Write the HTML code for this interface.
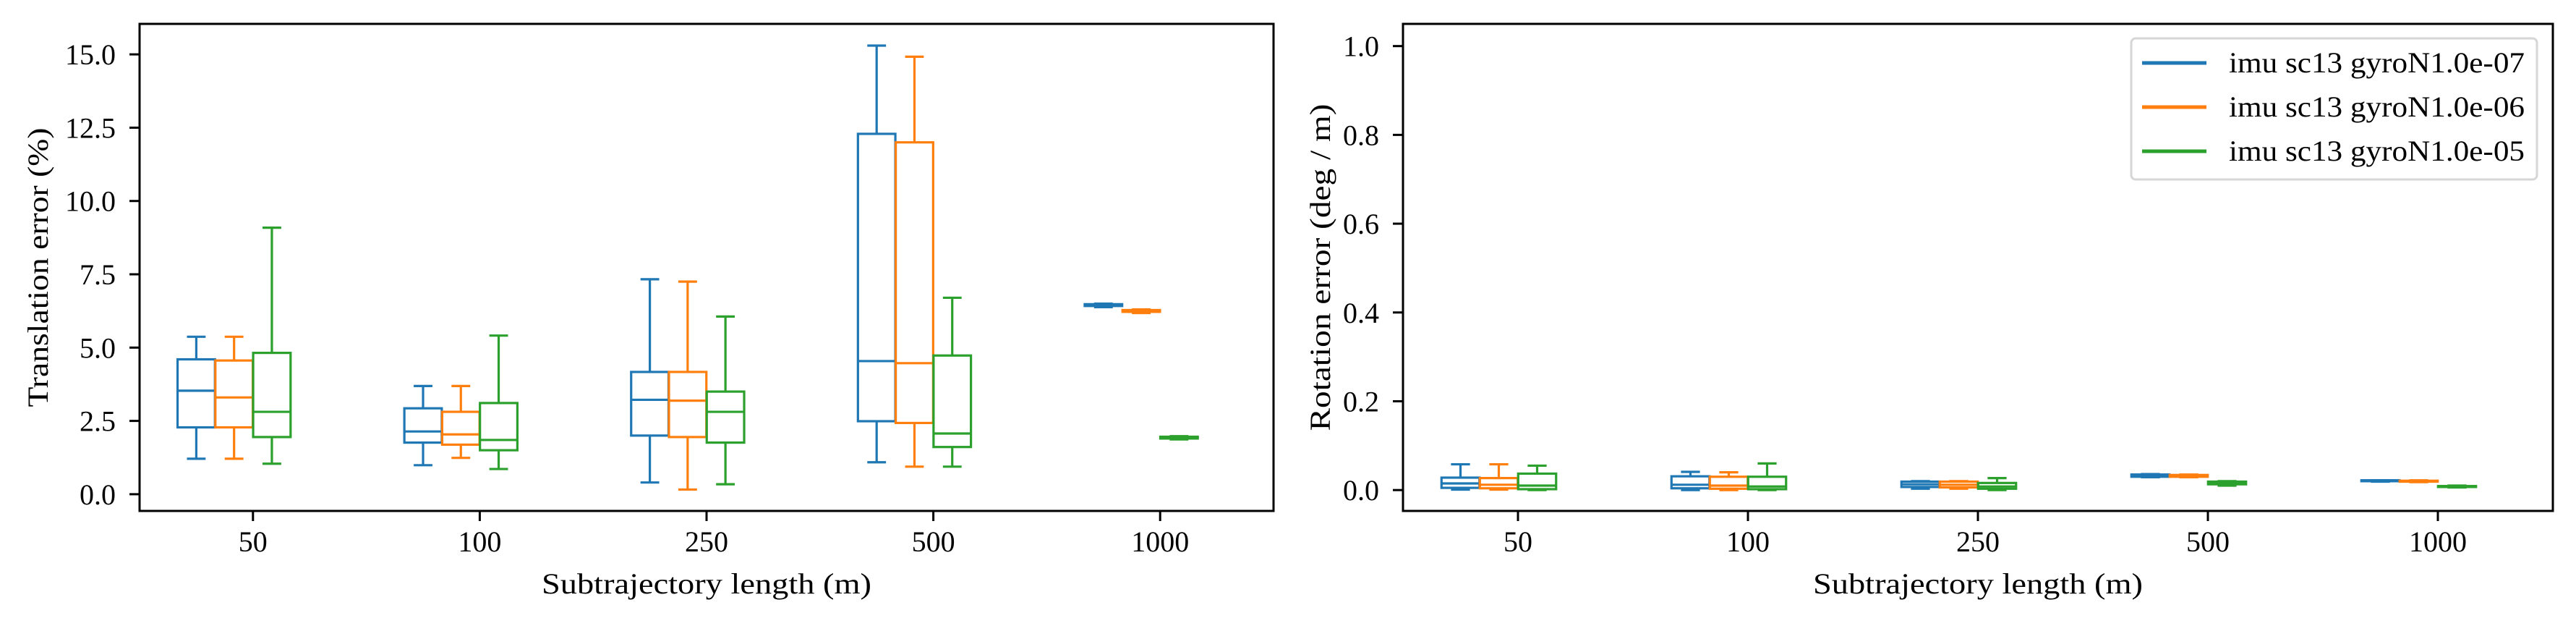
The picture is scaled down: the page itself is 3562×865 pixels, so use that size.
<!DOCTYPE html>
<html><head><meta charset="utf-8"><style>
body{margin:0;background:#fff}
svg text{font-family:"Liberation Serif",serif;fill:#000}
</style></head><body>
<svg id="c" width="3562" height="860" xmlns="http://www.w3.org/2000/svg"></svg>
<script>
const categories=["50","100","250","500","1000"];
const seriesNames=["imu sc13 gyroN1.0e-07","imu sc13 gyroN1.0e-06","imu sc13 gyroN1.0e-05"];
const colors=["#1f77b4","#ff7f0e","#2ca02c"];
// [low, q1, median, q3, high]
const transBlue=[[1.21,2.28,3.53,4.60,5.37],[0.99,1.76,2.14,2.93,3.69],[0.40,2.00,3.22,4.17,7.33],[1.09,2.49,4.54,12.29,15.30],[6.38,6.42,6.45,6.48,6.50]];
const transOrange=[[1.21,2.28,3.30,4.56,5.37],[1.24,1.69,2.04,2.81,3.69],[0.16,1.95,3.19,4.17,7.25],[0.94,2.43,4.47,12.00,14.92],[6.18,6.22,6.25,6.28,6.30]];
const transGreen=[[1.04,1.95,2.81,4.82,9.09],[0.86,1.50,1.85,3.11,5.41],[0.34,1.76,2.81,3.50,6.06],[0.94,1.61,2.07,4.73,6.70],[1.87,1.90,1.93,1.96,1.98]];
const rotBlue=[[0.001,0.005,0.015,0.028,0.058],[0.0,0.004,0.012,0.031,0.041],[0.003,0.007,0.013,0.019,0.020],[0.029,0.030,0.033,0.035,0.036],[0.019,0.020,0.021,0.022,0.022]];
const rotOrange=[[0.001,0.004,0.012,0.027,0.058],[0.0,0.003,0.010,0.030,0.040],[0.003,0.006,0.012,0.019,0.020],[0.029,0.030,0.032,0.034,0.035],[0.018,0.019,0.020,0.021,0.022]];
const rotGreen=[[0.0,0.002,0.010,0.037,0.055],[0.0,0.002,0.008,0.030,0.060],[0.0,0.003,0.008,0.016,0.027],[0.010,0.013,0.016,0.019,0.020],[0.006,0.007,0.008,0.009,0.010]];
const transTicks=[0,2.5,5,7.5,10,12.5,15];
const transTickLabels=["0.0","2.5","5.0","7.5","10.0","12.5","15.0"];
const rotTicks=[0,0.2,0.4,0.6,0.8,1.0];
const rotTickLabels=["0.0","0.2","0.4","0.6","0.8","1.0"];

const svg=document.getElementById('c');
const NS="http://www.w3.org/2000/svg";
function mk(tag,attrs,parent){const e=document.createElementNS(NS,tag);for(const k in attrs)e.setAttribute(k,attrs[k]);(parent||svg).appendChild(e);return e;}

function panel(name,L,R,T,B,ymin,ymax,data,ticks,tickLabels,ylabel,ylabelX,ylabelLen){
  const g=mk('g',{});
  
  
  const x=v=>L+(v-0.5)/5*(R-L);
  const y=v=>B-(v-ymin)/(ymax-ymin)*(B-T);
  const offs=[-0.25,-1/12,1/12], w=0.165;
  data.forEach((ser,si)=>{
    ser.forEach((d,ci)=>{
      const bg=mk('g',{stroke:colors[si],'stroke-width':3.2,fill:'none'},g);
      
      
      const cx=x(ci+1+offs[si]), x0=cx-w/2*(R-L)/5, x1=cx+w/2*(R-L)/5, cw=w/4*(R-L)/5;
      mk('rect',{x:x0,y:y(d[3]),width:x1-x0,height:Math.max(0,y(d[1])-y(d[3]))},bg);
      mk('line',{x1:x0,x2:x1,y1:y(d[2]),y2:y(d[2])},bg);
      mk('line',{x1:cx,x2:cx,y1:y(d[3]),y2:y(d[4])},bg);
      mk('line',{x1:cx,x2:cx,y1:y(d[1]),y2:y(d[0])},bg);
      mk('line',{x1:cx-cw,x2:cx+cw,y1:y(d[4]),y2:y(d[4])},bg);
      mk('line',{x1:cx-cw,x2:cx+cw,y1:y(d[0]),y2:y(d[0])},bg);
    });
  });
  const fr=mk('rect',{x:L,y:T,width:R-L,height:B-T,fill:'none',stroke:'#000','stroke-width':3},g);
  
  
  ticks.forEach((t,i)=>{
    mk('line',{x1:L-14,x2:L,y1:y(t),y2:y(t),stroke:'#000','stroke-width':3},g);
    const tx=mk('text',{x:L-33,y:y(t)+14,'text-anchor':'end','font-size':40},g);
    tx.textContent=tickLabels[i];
    
    
  });
  categories.forEach((c,i)=>{
    const cx=x(i+1);
    mk('line',{x1:cx,x2:cx,y1:B,y2:B+14,stroke:'#000','stroke-width':3},g);
    const tx=mk('text',{x:cx,y:762,'text-anchor':'middle','font-size':40},g);
    tx.textContent=c;
    
    
  });
  const xl=mk('text',{x:(L+R)/2,y:820,'text-anchor':'middle','font-size':40,textLength:456,lengthAdjust:'spacingAndGlyphs'},g);
  xl.textContent='Subtrajectory length (m)';
  
  
  const yl=mk('text',{x:0,y:0,'text-anchor':'middle','font-size':40,textLength:ylabelLen,lengthAdjust:'spacingAndGlyphs',transform:`translate(${ylabelX+14},${(T+B)/2}) rotate(-90)`},g);
  yl.textContent=ylabel;
  
  
}
panel('translation-panel',193,1761,33,706,-0.57,16.04,[transBlue,transOrange,transGreen],transTicks,transTickLabels,'Translation error (%)',52,386);
panel('rotation-panel',1940,3530,33,706,-0.047,1.05,[rotBlue,rotOrange,rotGreen],rotTicks,rotTickLabels,'Rotation error (deg / m)',1825,452);

const lg=mk('g',{});


mk('rect',{x:2947,y:53,width:561,height:195,rx:6,fill:'#fff',stroke:'#d6d6d6','stroke-width':3},lg);
seriesNames.forEach((n,i)=>{
  const yy=87+i*61;
  const e=mk('g',{},lg);
  
  
  mk('line',{x1:2962,x2:3051,y1:yy,y2:yy,stroke:colors[i],'stroke-width':5},e);
  const t=mk('text',{x:3082,y:yy+13,'font-size':40,textLength:409,lengthAdjust:'spacingAndGlyphs'},e);
  t.textContent=n;
});
</script>
</body></html>
